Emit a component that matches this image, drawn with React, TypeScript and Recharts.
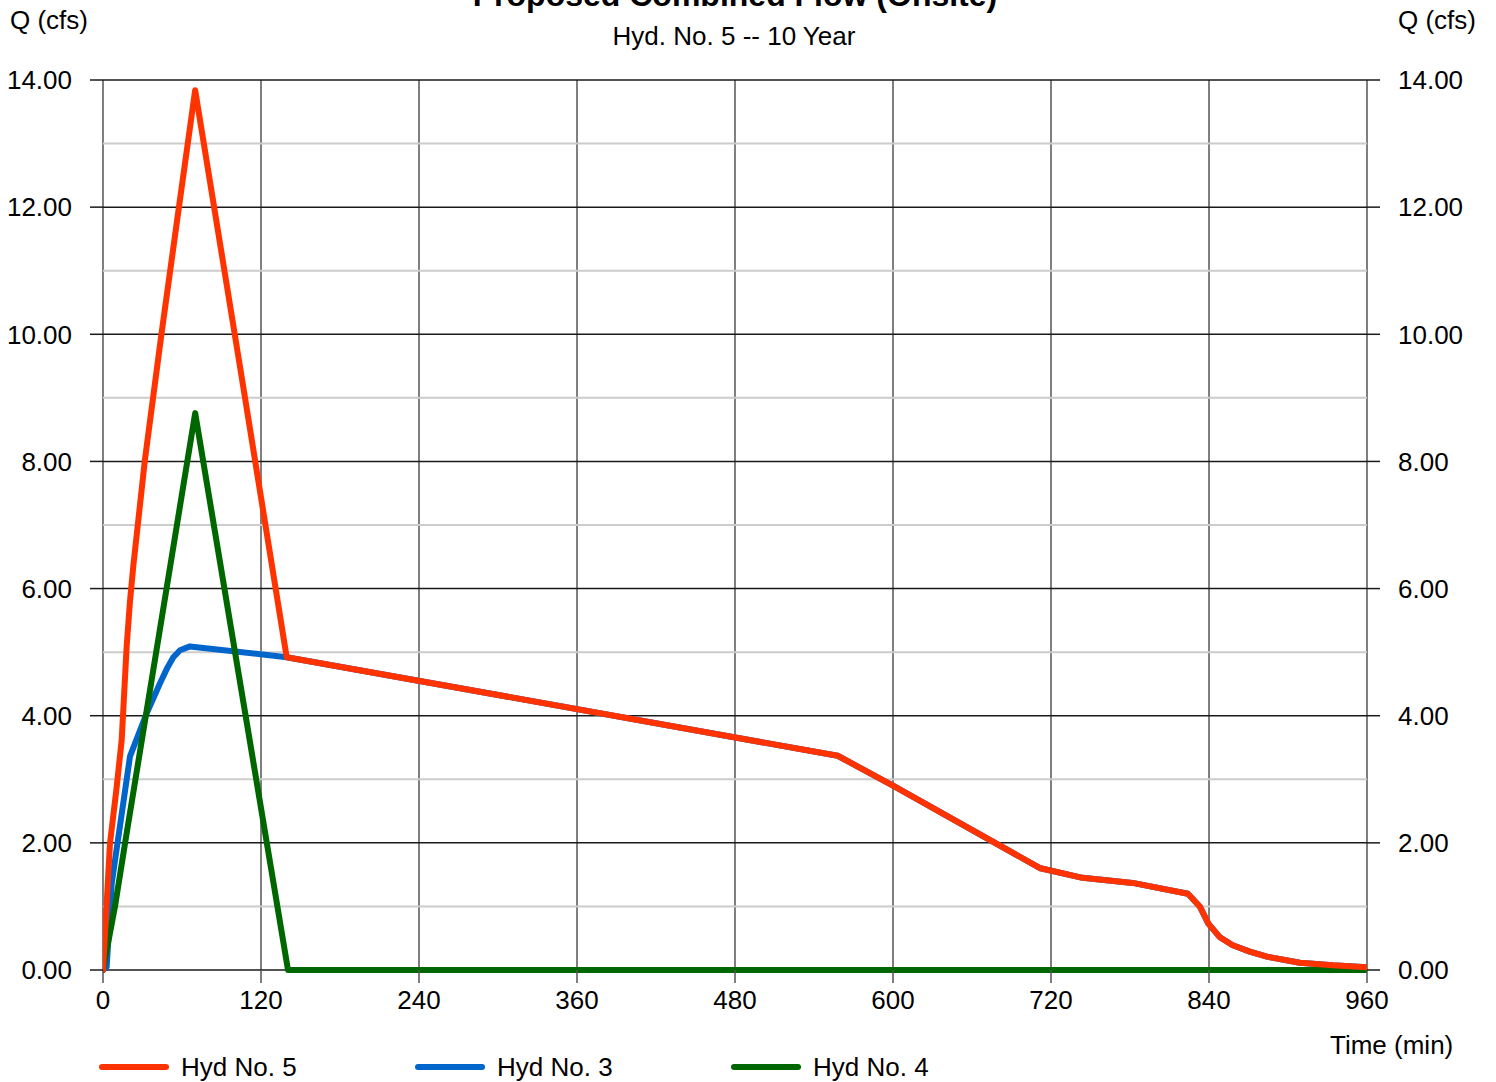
import React from "react";
import { LineChart, Line, XAxis, YAxis, CartesianGrid, ReferenceLine } from "recharts";

// ---- data (time in min, flow in cfs) ----
const hyd5Time = [0, 5.3, 10.4, 14.2, 18, 20.5, 23, 31.8, 44.5, 57, 70, 105.3, 139.5, 558, 600, 712, 744, 782, 824, 833, 839.5, 848, 858, 871, 884, 909, 934, 960];
const hyd5Flow = [0, 1.99, 2.88, 3.62, 5.1, 5.8, 6.35, 8.02, 10.02, 11.9, 13.84, 9.33, 4.92, 3.37, 2.9, 1.6, 1.45, 1.37, 1.2, 1.0, 0.73, 0.52, 0.39, 0.29, 0.21, 0.115, 0.074, 0.045];

const hyd3Time = [0, 2.8, 6.6, 20.5, 33.2, 43.3, 49, 53.4, 58.5, 66, 139.5, 558, 600, 712, 744, 782, 824, 833, 839.5, 848, 858, 871, 884, 909, 934, 960];
const hyd3Flow = [0, 0.05, 1.36, 3.36, 4.04, 4.51, 4.76, 4.92, 5.03, 5.09, 4.92, 3.37, 2.9, 1.6, 1.45, 1.37, 1.2, 1.0, 0.73, 0.52, 0.39, 0.29, 0.21, 0.115, 0.074, 0.045];

const hyd4Time = [0, 9.1, 16.7, 70, 140.5, 960];
const hyd4Flow = [0, 1.0, 1.99, 8.76, 0, 0];

const xTicks = [0, 120, 240, 360, 480, 600, 720, 840, 960];
const yTicks = [0, 2, 4, 6, 8, 10, 12, 14];
const yMinor = [1, 3, 5, 7, 9, 11, 13];

const seriesNames = ["Hyd No. 5", "Hyd No. 3", "Hyd No. 4"];
const titleText = "Proposed Combined Flow (Onsite)";
const subtitleText = "Hyd. No. 5 -- 10 Year";

const toPoints = (t: number[], q: number[]) => t.map((x, i) => ({ t: x, q: q[i] }));

const hyd5 = toPoints(hyd5Time, hyd5Flow);
const hyd3 = toPoints(hyd3Time, hyd3Flow);
const hyd4 = toPoints(hyd4Time, hyd4Flow);

const FONT = "Arial, 'Liberation Sans', Helvetica, sans-serif";
const RED = "#FF3300";
const BLUE = "#0066CC";
const GREEN = "#006600";

const tickStyle = { fontSize: 26, fill: "#000", fontFamily: FONT };

const txt = (extra: React.CSSProperties): React.CSSProperties => ({
  position: "absolute",
  fontFamily: FONT,
  fontSize: 26,
  lineHeight: "26px",
  color: "#000",
  whiteSpace: "nowrap",
  ...extra,
});

export default function App() {
  const legendItems = [
    { name: seriesNames[0], color: RED, x: 103 },
    { name: seriesNames[1], color: BLUE, x: 419 },
    { name: seriesNames[2], color: GREEN, x: 735 },
  ];
  return (
    <div style={{ position: "absolute", left: 0, top: 0, width: 1496, height: 1082, overflow: "hidden", background: "#fff" }}>
      <LineChart width={1496} height={1082} margin={{ top: 80, right: 34, bottom: 72, left: 8 }}>
        <CartesianGrid yAxisId="left" horizontal={false} stroke="#555" strokeWidth={1.5} strokeOpacity={1} />
        {yMinor.map((v) => (
          <ReferenceLine key={v} yAxisId="left" y={v} stroke="#cccccc" strokeWidth={2} />
        ))}
        <CartesianGrid yAxisId="left" vertical={false} stroke="#1a1a1a" strokeWidth={1.5} strokeOpacity={1} />
        <XAxis
          dataKey="t"
          type="number"
          domain={[0, 960]}
          ticks={xTicks}
          allowDataOverflow
          height={40}
          tickSize={13}
          tickMargin={8}
          axisLine={false}
          tickLine={{ stroke: "#555", strokeWidth: 1.5 }}
          tick={tickStyle}
        />
        <YAxis
          yAxisId="left"
          orientation="left"
          type="number"
          domain={[0, 14]}
          ticks={yTicks}
          width={95}
          tickSize={13}
          tickMargin={18}
          axisLine={false}
          tickLine={{ stroke: "#1a1a1a", strokeWidth: 1.5 }}
          tick={tickStyle}
          tickFormatter={(v: number) => v.toFixed(2)}
        />
        <YAxis
          yAxisId="right"
          orientation="right"
          type="number"
          domain={[0, 14]}
          ticks={yTicks}
          width={95}
          tickSize={13}
          tickMargin={18}
          axisLine={false}
          tickLine={{ stroke: "#1a1a1a", strokeWidth: 1.5 }}
          tick={tickStyle}
          tickFormatter={(v: number) => v.toFixed(2)}
        />
        <Line yAxisId="right" data={hyd4} dataKey="q" type="linear" stroke="none" strokeOpacity={0} dot={false} activeDot={false} legendType="none" isAnimationActive={false} />
        <Line yAxisId="left" data={hyd3} dataKey="q" type="linear" stroke={BLUE} strokeWidth={6} dot={false} strokeLinejoin="round" strokeLinecap="round" isAnimationActive={false} name={seriesNames[1]} />
        <Line yAxisId="left" data={hyd4} dataKey="q" type="linear" stroke={GREEN} strokeWidth={6} dot={false} strokeLinejoin="round" strokeLinecap="round" isAnimationActive={false} name={seriesNames[2]} />
        <Line yAxisId="left" data={hyd5} dataKey="q" type="linear" stroke={RED} strokeWidth={6} dot={false} strokeLinejoin="round" strokeLinecap="round" isAnimationActive={false} name={seriesNames[0]} />
      </LineChart>

      <div style={txt({ left: 235, width: 1000, top: -21, fontSize: 32, lineHeight: "32px", fontWeight: "bold", textAlign: "center" })}>{titleText}</div>
      <div style={txt({ left: 234, width: 1000, top: 23, textAlign: "center" })}>{subtitleText}</div>
      <div style={txt({ left: 10, top: 7 })}>Q (cfs)</div>
      <div style={txt({ left: 1398, top: 7 })}>Q (cfs)</div>
      <div style={txt({ left: 1330, top: 1032 })}>Time (min)</div>

      {legendItems.map((it) => (
        <React.Fragment key={it.name}>
          <svg style={{ position: "absolute", left: it.x - 5, top: 1060 }} width={76} height={14}>
            <line x1={4} y1={7} x2={68} y2={7} stroke={it.color} strokeWidth={6} strokeLinecap="round" />
          </svg>
          <div style={txt({ left: it.x + 78, top: 1054 })}>{it.name}</div>
        </React.Fragment>
      ))}
    </div>
  );
}
